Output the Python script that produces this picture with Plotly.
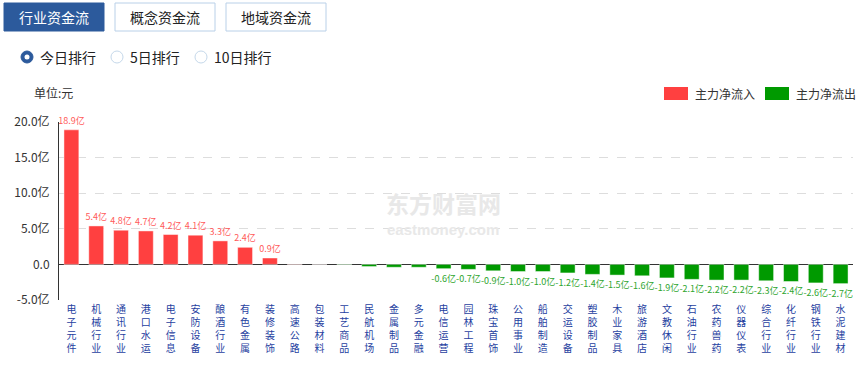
import plotly.graph_objects as go

categories = ["电子元件", "机械行业", "通讯行业", "港口水运", "电子信息", "安防设备", "酿酒行业", "有色金属",
              "装修装饰", "高速公路", "包装材料", "工艺商品", "民航机场", "金属制品", "多元金融", "电信运营",
              "园林工程", "珠宝首饰", "公用事业", "船舶制造", "交运设备", "塑胶制品", "木业家具", "旅游酒店",
              "文教休闲", "石油行业", "农药兽药", "仪器仪表", "综合行业", "化纤行业", "钢铁行业", "水泥建材"]
values = [18.9, 5.4, 4.8, 4.7, 4.2, 4.1, 3.3, 2.4, 0.9, 0.03, 0.01, -0.05, -0.3, -0.4, -0.4, -0.6,
          -0.7, -0.9, -1.0, -1.0, -1.2, -1.4, -1.5, -1.6, -1.9, -2.1, -2.2, -2.2, -2.3, -2.4, -2.6, -2.7]
ytick_vals = [-5, 0, 5, 10, 15, 20]
ytick_text = ["-5.0亿", "0.0", "5.0亿", "10.0亿", "15.0亿", "20.0亿"]

RED = "#ff4040"
GREEN = "#009a00"
FONT = "Microsoft YaHei, Noto Sans CJK SC, sans-serif"

W, H = 863, 368
ML, MR, MT, MB = 59, 10, 122, 68
PW, PH = W - ML - MR, H - MT - MB


def px(x):
    return (x - ML) / PW


def py(y):
    return (H - MB - y) / PH


colors = [RED if v >= 0 else GREEN for v in values]
labels = [f"{v:.1f}亿" if abs(v) >= 0.5 else "" for v in values]
label_colors = ["#ff5a5a" if v >= 0 else "#2ea52e" for v in values]
ticktext = ["<br>".join(list(c)) for c in categories]

fig = go.Figure()
fig.add_trace(go.Bar(
    x=categories, y=values,
    marker=dict(color=colors, line=dict(color="rgba(255,255,255,0.45)", width=1)),
    text=labels, textposition="outside", constraintext="none", cliponaxis=False,
    textfont=dict(size=9, color=label_colors, family=FONT),
    showlegend=False, hoverinfo="x+y",
))

shapes = []
annotations = []


def note(x, y, text, size, color, xanchor="center", family=FONT):
    annotations.append(dict(x=x, y=y, xref="paper", yref="paper", text=text, xanchor=xanchor,
                            yanchor="middle", showarrow=False,
                            font=dict(size=size, color=color, family=family)))


# watermark
note(px(443), py(203), "<b>东方财富网</b>", 23, "#e8e8e8")
note(px(443), py(229), "<b>eastmoney.com</b>", 15, "#e8e8e8", family="Arial, sans-serif")

# top buttons
buttons = [("行业资金流", 4, 104, True), ("概念资金流", 115, 215, False), ("地域资金流", 226, 326, False)]
for txt, x0, x1, active in buttons:
    shapes.append(dict(type="rect", xref="paper", yref="paper", x0=px(x0), x1=px(x1), y0=py(31), y1=py(3),
                       fillcolor="#2c5a9c" if active else "white",
                       line=dict(color="#2c5a9c" if active else "#b9d0e8", width=1), layer="above"))
    note(px((x0 + x1) / 2), py(17), txt, 14, "white" if active else "#222")

# radio options
radios = [("今日排行", 27, True), ("5日排行", 117, False), ("10日排行", 201, False)]
for txt, cx, active in radios:
    r = 6
    shapes.append(dict(type="circle", xref="paper", yref="paper", x0=px(cx - r), x1=px(cx + r),
                       y0=py(57 + r), y1=py(57 - r), fillcolor="#2c5a9c" if active else "white",
                       line=dict(color="#2c5a9c" if active else "#c5d8ea", width=1), layer="above"))
    if active:
        shapes.append(dict(type="circle", xref="paper", yref="paper", x0=px(cx - 2.5), x1=px(cx + 2.5),
                           y0=py(57 + 2.5), y1=py(57 - 2.5), fillcolor="white", line=dict(width=0),
                           layer="above"))
    note(px(cx + 11), py(57), txt, 14, "#222", xanchor="left")

# unit label
note(px(32), py(93), "单位:元", 12, "#333", xanchor="left")

# legend
legend_items = [("主力净流入", RED, 664), ("主力净流出", GREEN, 765)]
for txt, col, x0 in legend_items:
    shapes.append(dict(type="rect", xref="paper", yref="paper", x0=px(x0), x1=px(x0 + 24), y0=py(100),
                       y1=py(87), fillcolor=col, line=dict(width=0), layer="above"))
    note(px(x0 + 29), py(93.5), txt, 12, "#333", xanchor="left")

fig.update_layout(
    width=W, height=H,
    margin=dict(l=ML, r=MR, t=MT, b=MB, autoexpand=False),
    paper_bgcolor="white", plot_bgcolor="white",
    bargap=0.4,
    font=dict(family=FONT),
    shapes=shapes, annotations=annotations,
    xaxis=dict(tickmode="array", tickvals=categories, ticktext=ticktext, tickangle=0,
               tickfont=dict(size=10, color="#1f3f9f", family=FONT), showgrid=False, showline=False,
               ticks="", ticklabelstandoff=2, fixedrange=True),
    yaxis=dict(range=[-5, 20], tickvals=ytick_vals, ticktext=ytick_text,
               tickfont=dict(size=12, color="#333", family=FONT),
               showgrid=True, gridcolor="#dddddd", griddash="dash", gridwidth=1,
               zeroline=True, zerolinecolor="#333", zerolinewidth=1,
               showline=True, linecolor="#333", linewidth=1, ticks="", ticklabelstandoff=6),
)

fig.write_html("out.html", config={"displayModeBar": False},
               post_script="document.body.style.margin='0px';")
